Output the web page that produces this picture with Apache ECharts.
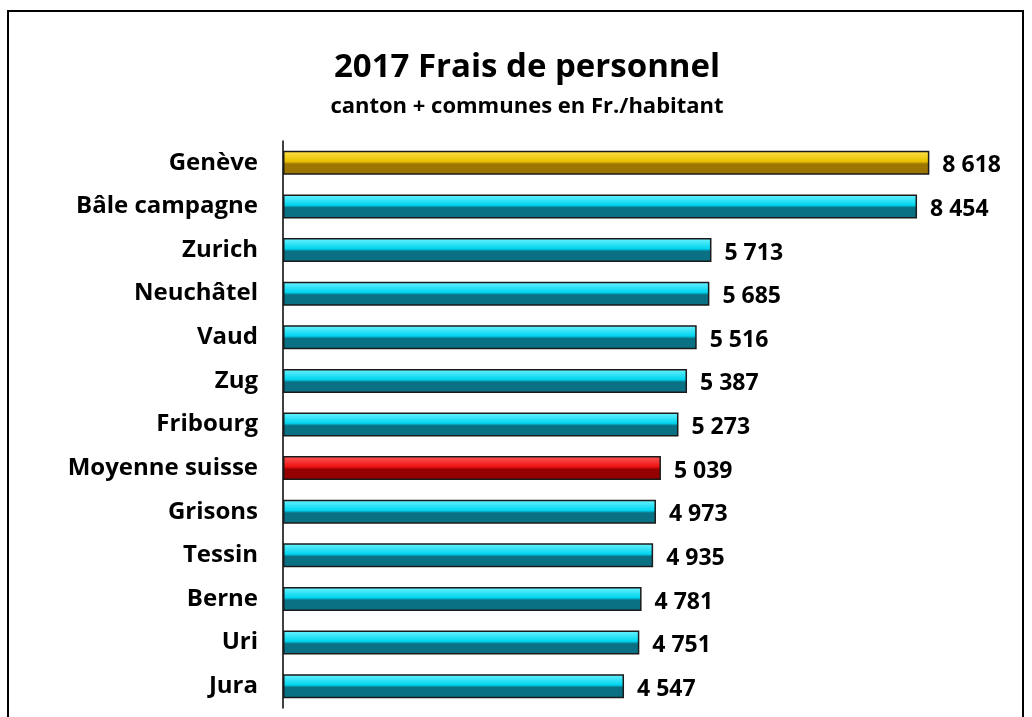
<!DOCTYPE html>
<html><head><meta charset="utf-8">
<script src="https://cdn.jsdelivr.net/npm/echarts@6/dist/echarts.min.js"></script>
<style>html,body{margin:0;padding:0;background:#fff}#c{width:1032px;height:717px}</style>
</head><body><div id="c"></div>
<script>
const categories = ["Genève","Bâle campagne","Zurich","Neuchâtel","Vaud","Zug","Fribourg","Moyenne suisse","Grisons","Tessin","Berne","Uri","Jura"];
const values = [8618,8454,5713,5685,5516,5387,5273,5039,4973,4935,4781,4751,4547];
const titleText = "2017 Frais de personnel";
const subtitleText = "canton + communes en Fr./habitant";

const FONT = "'Open Sans', sans-serif";
function grad(top, mid, bottom){
  return new echarts.graphic.LinearGradient(0,0,0,1,[
    {offset:0,color:top},{offset:0.45,color:mid},{offset:0.55,color:bottom},{offset:1,color:bottom}
  ]);
}
const cyan = grad('#6ff3ff','#00d4ee','#0a7184');
const gold = grad('#ffe34a','#e8c000','#9c7600');
const red = grad('#ff5a5a','#ee1010','#950000');

const data = values.map((v,i)=>({
  value:v,
  itemStyle:{color: categories[i]==="Genève"?gold:(categories[i]==="Moyenne suisse"?red:cyan)}
}));

const chart = echarts.init(document.getElementById('c'));
chart.setOption({
  backgroundColor:'#fff',
  animation:false,
  graphic:[{type:'rect',shape:{x:8,y:11,width:1015,height:720},style:{fill:'none',stroke:'#000',lineWidth:2},z:-1}],
  title:{
    text:titleText, subtext:subtitleText, left:522, textAlign:'center', top:46, itemGap:12,
    textStyle:{fontFamily:FONT,fontWeight:'bold',fontSize:33,color:'#000'},
    subtextStyle:{fontFamily:FONT,fontWeight:'bold',fontSize:22,color:'#000'}
  },
  grid:{left:283,top:141,width:675,height:567,containLabel:false},
  xAxis:{type:'value',min:0,max:9000,show:false},
  yAxis:{type:'category',data:categories,inverse:true,
    axisLine:{show:true,lineStyle:{color:'#000',width:1.5}},
    axisTick:{show:false},
    axisLabel:{margin:25,fontFamily:FONT,fontWeight:'bold',fontSize:24,color:'#000'}
  },
  series:[{type:'bar',data:data,barCategoryGap:'45%',
    itemStyle:{borderColor:'#1a1a1a',borderWidth:1.5},
    label:{show:true,position:'right',distance:13,offset:[0,3],fontFamily:FONT,fontWeight:'bold',fontSize:23,color:'#000',
      formatter:p=>String(p.value).replace(/\B(?=(\d{3})+(?!\d))/g,' ')}
  }]
});
</script></body></html>
